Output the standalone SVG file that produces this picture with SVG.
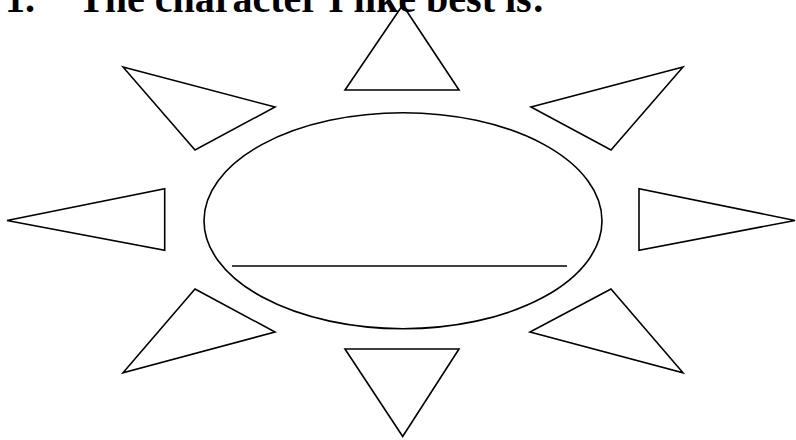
<svg xmlns="http://www.w3.org/2000/svg" width="796" height="440" viewBox="0 0 796 440">
<style>
.s{fill:none;stroke:#000;stroke-width:1.6;stroke-linejoin:miter}
.t{font-family:"Liberation Serif","Times New Roman",serif;font-weight:bold;font-size:40px;fill:#000}
</style>
<rect width="796" height="440" fill="#fff"/>
<g id="title"><text class="t" y="12"><tspan x="5">1.</tspan><tspan x="78">The character I like best is:</tspan></text></g>
<g id="center">
<ellipse class="s" cx="403" cy="220.7" rx="199" ry="108"/>
<line class="s" x1="232" y1="266" x2="567" y2="266"/>
</g>
<g id="ray-top"><polygon class="s" points="402.7,5 345,90 459,90"/></g>
<g id="ray-upper-left"><polygon class="s" points="123,67 275,107 195,150"/></g>
<g id="ray-upper-right"><polygon class="s" points="683,67 531,107 611,150"/></g>
<g id="ray-left"><polygon class="s" points="7,220.5 164.7,188.7 164.7,250.3"/></g>
<g id="ray-right"><polygon class="s" points="795,220.5 639,188.7 639,250.3"/></g>
<g id="ray-lower-left"><polygon class="s" points="195,289 275,332 123,372.7"/></g>
<g id="ray-lower-right"><polygon class="s" points="611,289 530,332 683,372.7"/></g>
<g id="ray-bottom"><polygon class="s" points="345,349 459,349 402.7,436.5"/></g>
<g id="connectors"/>
</svg>
